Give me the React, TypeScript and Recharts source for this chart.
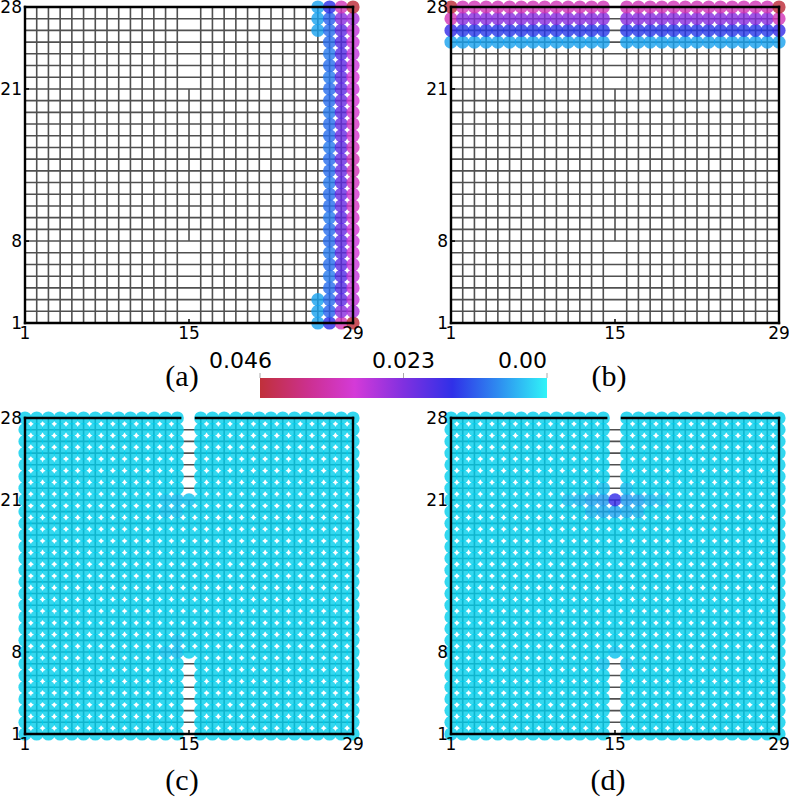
import React from 'react';
import { ScatterChart, Scatter, XAxis, YAxis, ReferenceLine, ReferenceArea, ComposedChart } from 'recharts';

// lattice nodes
const GRID_XS = [1, 2, 3, 4, 5, 6, 7, 8, 9, 10, 11, 12, 13, 14, 15, 16, 17, 18, 19, 20, 21, 22, 23, 24, 25, 26, 27, 28, 29];
const GRID_YS = [1, 2, 3, 4, 5, 6, 7, 8, 9, 10, 11, 12, 13, 14, 15, 16, 17, 18, 19, 20, 21, 22, 23, 24, 25, 26, 27, 28];
const X_TICKS = [1, 15, 29];
const Y_TICKS = [1, 8, 21, 28];

// crack: column 15 has no vertical bonds below row 8 and above row 21
const CRACK_X = 15;
const CRACK_BOND_FROM = 8;
const CRACK_BOND_TO = 21;
const CRACK_ROWS = [1, 2, 3, 4, 5, 6, 7, 22, 23, 24, 25, 26, 27, 28];

const VMAX = 0.046;
const CBAR_TICKS = [0.046, 0.023, 0];
const CBAR_LABELS = ['0.046', '0.023', '0.00'];

// (a) columns, rows 1..28
const A_COL_26 = [0.005, 0.005, 0.005, null, null, null, null, null, null, null, null, null, null, null, null, null, null, null, null, null, null, null, null, null, null, 0.005, 0.005, 0.005];
const A_COL_27 = [0.015, 0.011, 0.010, 0.010, 0.009, 0.010, 0.009, 0.010, 0.010, 0.009, 0.010, 0.010, 0.009, 0.010, 0.010, 0.009, 0.010, 0.010, 0.009, 0.010, 0.010, 0.009, 0.010, 0.009, 0.010, 0.010, 0.011, 0.015];
const A_COL_28 = [0.034, 0.024, 0.020, 0.019, 0.019, 0.020, 0.020, 0.020, 0.021, 0.020, 0.021, 0.021, 0.020, 0.021, 0.021, 0.020, 0.021, 0.021, 0.020, 0.021, 0.020, 0.020, 0.020, 0.019, 0.019, 0.020, 0.024, 0.034];
const A_COL_29 = [0.046, 0.027, 0.029, 0.030, 0.029, 0.030, 0.031, 0.030, 0.031, 0.032, 0.033, 0.032, 0.033, 0.034, 0.034, 0.033, 0.032, 0.033, 0.032, 0.031, 0.030, 0.031, 0.030, 0.029, 0.030, 0.029, 0.027, 0.046];

// (b) rows, x = 1..29 (15 is the crack)
const B_ROW_25 = [0.005, 0.005, 0.005, 0.005, 0.005, 0.005, 0.005, 0.005, 0.005, 0.005, 0.005, 0.005, 0.005, 0.005, null, 0.005, 0.005, 0.005, 0.005, 0.005, 0.005, 0.005, 0.005, 0.005, 0.005, 0.005, 0.005, 0.005, 0.005];
const B_ROW_26 = [0.016, 0.014, 0.014, 0.014, 0.014, 0.014, 0.014, 0.014, 0.014, 0.014, 0.014, 0.014, 0.014, 0.014, null, 0.014, 0.014, 0.014, 0.014, 0.014, 0.014, 0.014, 0.014, 0.014, 0.014, 0.014, 0.014, 0.014, 0.016];
const B_ROW_27 = [0.034, 0.024, 0.024, 0.024, 0.024, 0.024, 0.024, 0.024, 0.024, 0.024, 0.024, 0.024, 0.024, 0.024, null, 0.024, 0.024, 0.024, 0.024, 0.024, 0.024, 0.024, 0.024, 0.024, 0.024, 0.024, 0.024, 0.024, 0.034];
const B_ROW_28 = [0.046, 0.034, 0.034, 0.034, 0.034, 0.034, 0.034, 0.034, 0.034, 0.034, 0.034, 0.034, 0.034, 0.034, null, 0.034, 0.034, 0.034, 0.034, 0.034, 0.034, 0.034, 0.034, 0.034, 0.034, 0.034, 0.034, 0.034, 0.046];

// (c), (d): everything ~0 except a few spots near the crack tips
const C_SPOTS = [
  { x: 13, y: 21, v: 0.0015 }, { x: 14, y: 21, v: 0.002 }, { x: 15, y: 21, v: 0.0015 },
  { x: 13, y: 20, v: 0.0015 }, { x: 14, y: 20, v: 0.0015 },
  { x: 13, y: 8, v: 0.0015 }, { x: 14, y: 8, v: 0.002 }, { x: 14, y: 9, v: 0.0015 },
];
const D_SPOTS = [
  { x: 15, y: 21, v: 0.016 },
  { x: 14, y: 21, v: 0.006 }, { x: 16, y: 21, v: 0.006 },
  { x: 13, y: 21, v: 0.005 }, { x: 17, y: 21, v: 0.005 }, { x: 15, y: 20, v: 0.005 },
  { x: 14, y: 20, v: 0.004 }, { x: 16, y: 20, v: 0.004 },
  { x: 12, y: 21, v: 0.003 }, { x: 18, y: 21, v: 0.003 }, { x: 13, y: 20, v: 0.003 }, { x: 17, y: 20, v: 0.003 },
  { x: 11, y: 21, v: 0.002 }, { x: 19, y: 21, v: 0.002 }, { x: 14, y: 22, v: 0.002 }, { x: 16, y: 22, v: 0.002 },
  { x: 14, y: 7, v: 0.0015 }, { x: 15, y: 8, v: 0.0015 }, { x: 16, y: 7, v: 0.0015 },
];

// colour map used for the nodes (value 0 -> cyan, VMAX -> red)
const CMAP: [number, string][] = [
  [0, '#00ceec'],
  [0.17, '#2488f0'],
  [0.33, '#2828e8'],
  [0.5, '#7c28e0'],
  [0.67, '#d436d8'],
  [0.83, '#cc2c8c'],
  [1, '#bc2834'],
];
const CBAR_ZERO = '#30f4f8';
const CBAR_COLORS = ['#30f4f8', '#2e8cf0', '#3030e8', '#8030e0', '#d43ad8', '#cc3090', '#c0303a'];

function hex(c: string) {
  return [1, 3, 5].map((i) => parseInt(c.slice(i, i + 2), 16));
}

function colorAt(v: number) {
  const t = Math.max(0, Math.min(1, v / VMAX));
  for (let i = 1; i < CMAP.length; i++) {
    const [t0, c0] = CMAP[i - 1];
    const [t1, c1] = CMAP[i];
    if (t <= t1) {
      const f = (t - t0) / (t1 - t0);
      const a = hex(c0);
      const b = hex(c1);
      return `rgb(${a.map((k, j) => Math.round(k + (b[j] - k) * f)).join(',')})`;
    }
  }
  return CMAP[CMAP.length - 1][1];
}

const colPoints = (x: number, vals: (number | null)[]) =>
  vals.flatMap((v, i) => (v === null ? [] : [{ x, y: GRID_YS[i], v }]));
const rowPoints = (y: number, vals: (number | null)[]) =>
  vals.flatMap((v, i) => (v === null ? [] : [{ x: GRID_XS[i], y, v }]));

const dataA = [
  ...colPoints(26, A_COL_26),
  ...colPoints(27, A_COL_27),
  ...colPoints(28, A_COL_28),
  ...colPoints(29, A_COL_29),
];
const dataB = [
  ...rowPoints(25, B_ROW_25),
  ...rowPoints(26, B_ROW_26),
  ...rowPoints(27, B_ROW_27),
  ...rowPoints(28, B_ROW_28),
];

function fullLattice(spots: { x: number; y: number; v: number }[]) {
  const out: { x: number; y: number; v: number }[] = [];
  GRID_YS.forEach((y) =>
    GRID_XS.forEach((x) => {
      if (x === CRACK_X && CRACK_ROWS.includes(y)) return;
      const s = spots.find((p) => p.x === x && p.y === y);
      out.push({ x, y, v: s ? s.v : 0 });
    })
  );
  return out;
}
const dataC = fullLattice(C_SPOTS);
const dataD = fullLattice(D_SPOTS);

const tickFont = { fill: '#000', fontSize: 17, fontFamily: 'DejaVu Sans' };

const Node = (p: any) => (
  <circle cx={p.cx} cy={p.cy} r={6.6} fill={colorAt(p.payload.v)} fillOpacity={0.8} />
);

function Lattice({ left, top, data, splitTop }: { left: number; top: number; data: any[]; splitTop?: boolean }) {
  const xMin = GRID_XS[0];
  const xMax = GRID_XS[GRID_XS.length - 1];
  const yMin = GRID_YS[0];
  const yMax = GRID_YS[GRID_YS.length - 1];
  const frame = { stroke: '#000', strokeWidth: 2.4, strokeLinecap: 'square' as const, zIndex: 1000 };
  const topSegs = splitTop
    ? [[xMin, CRACK_X - 0.75], [CRACK_X + 0.6, xMax]]
    : [[xMin, xMax]];
  return (
    <div style={{ position: 'absolute', left, top }}>
      <ScatterChart width={363} height={345} margin={{ top: 7, right: 10, bottom: 0, left: 0 }}>
        <XAxis
          type="number"
          dataKey="x"
          domain={[xMin, xMax]}
          ticks={X_TICKS}
          interval={0}
          height={22}
          axisLine={false}
          tickSize={-4}
          tickMargin={8}
          tickLine={{ stroke: '#000', strokeWidth: 1.5 }}
          tick={tickFont}
        />
        <YAxis
          type="number"
          dataKey="y"
          domain={[yMin, yMax]}
          ticks={Y_TICKS}
          interval={0}
          width={25}
          axisLine={false}
          tickSize={-4}
          tickMargin={7}
          tickLine={{ stroke: '#000', strokeWidth: 1.5 }}
          tick={tickFont}
        />
        {GRID_YS.slice(1, -1).map((y) => (
          <ReferenceLine key={'h' + y} segment={[{ x: xMin, y }, { x: xMax, y }]} stroke="#505050" strokeWidth={1.6} />
        ))}
        {GRID_XS.slice(1, -1).map((x) => (
          <ReferenceLine
            key={'v' + x}
            segment={
              x === CRACK_X
                ? [{ x, y: CRACK_BOND_FROM }, { x, y: CRACK_BOND_TO }]
                : [{ x, y: yMin }, { x, y: yMax }]
            }
            stroke="#505050"
            strokeWidth={1.6}
          />
        ))}
        <Scatter data={data} shape={Node} isAnimationActive={false} />
        <ReferenceLine segment={[{ x: xMin, y: yMin }, { x: xMin, y: yMax }]} {...frame} />
        <ReferenceLine segment={[{ x: xMax, y: yMin }, { x: xMax, y: yMax }]} {...frame} />
        <ReferenceLine segment={[{ x: xMin, y: yMin }, { x: xMax, y: yMin }]} {...frame} />
        {topSegs.map(([a, b]) => (
          <ReferenceLine key={'t' + a} segment={[{ x: a, y: yMax }, { x: b, y: yMax }]} {...frame} />
        ))}
      </ScatterChart>
    </div>
  );
}

const CbarTick = (p: any) => {
  const i = p.index;
  return (
    <text
      x={p.x + (i === 0 ? 12 : 0)}
      y={p.y - 3}
      textAnchor={i === 1 ? 'middle' : 'end'}
      fontSize={22}
      fontFamily="DejaVu Sans"
      fill="#000"
    >
      {CBAR_LABELS[i]}
    </text>
  );
};

const cbarData = CBAR_TICKS.map((v) => ({ v, y: 0.5 }));

function ColorBar() {
  return (
    <div style={{ position: 'absolute', left: 200, top: 340 }}>
      <ComposedChart width={360} height={70} data={cbarData} margin={{ top: 0, right: 13, bottom: 12, left: 60 }}>
        <defs>
          <linearGradient id="cbar" x1="0" y1="0" x2="1" y2="0">
            {CMAP.map(([t], i) => (
              <stop key={t} offset={`${(1 - t) * 100}%`} stopColor={CBAR_COLORS[i]} />
            )).reverse()}
          </linearGradient>
        </defs>
        <XAxis
          type="number"
          dataKey="v"
          orientation="top"
          domain={[0, VMAX]}
          reversed
          ticks={CBAR_TICKS}
          interval={0}
          height={38}
          axisLine={false}
          tickSize={5}
          tickLine={{ stroke: '#aaa' }}
          tick={<CbarTick />}
        />
        <YAxis type="number" domain={[0, 1]} hide />
        <ReferenceArea x1={0} x2={VMAX} y1={0} y2={1} fill="url(#cbar)" fillOpacity={1} stroke="none" ifOverflow="visible" />
        <Scatter dataKey="y" shape={() => <g />} isAnimationActive={false} />
      </ComposedChart>
    </div>
  );
}

const labelStyle = (cx: number, cy: number): React.CSSProperties => ({
  position: 'absolute',
  left: cx - 40,
  top: cy - 18,
  width: 80,
  lineHeight: '36px',
  textAlign: 'center',
  fontFamily: 'Liberation Serif',
  fontSize: 30,
  color: '#000',
});

export default function App() {
  return (
    <div style={{ position: 'absolute', left: 0, top: 0, width: 789, height: 800, background: '#fff', overflow: 'hidden' }}>
      <Lattice left={0} top={0} data={dataA} />
      <Lattice left={426} top={0} data={dataB} />
      <Lattice left={0} top={411} data={dataC} splitTop />
      <Lattice left={426} top={411} data={dataD} splitTop />
      <ColorBar />
      <div style={labelStyle(182, 376)}>(a)</div>
      <div style={labelStyle(609, 376)}>(b)</div>
      <div style={labelStyle(182, 780)}>(c)</div>
      <div style={labelStyle(608, 780)}>(d)</div>
    </div>
  );
}
